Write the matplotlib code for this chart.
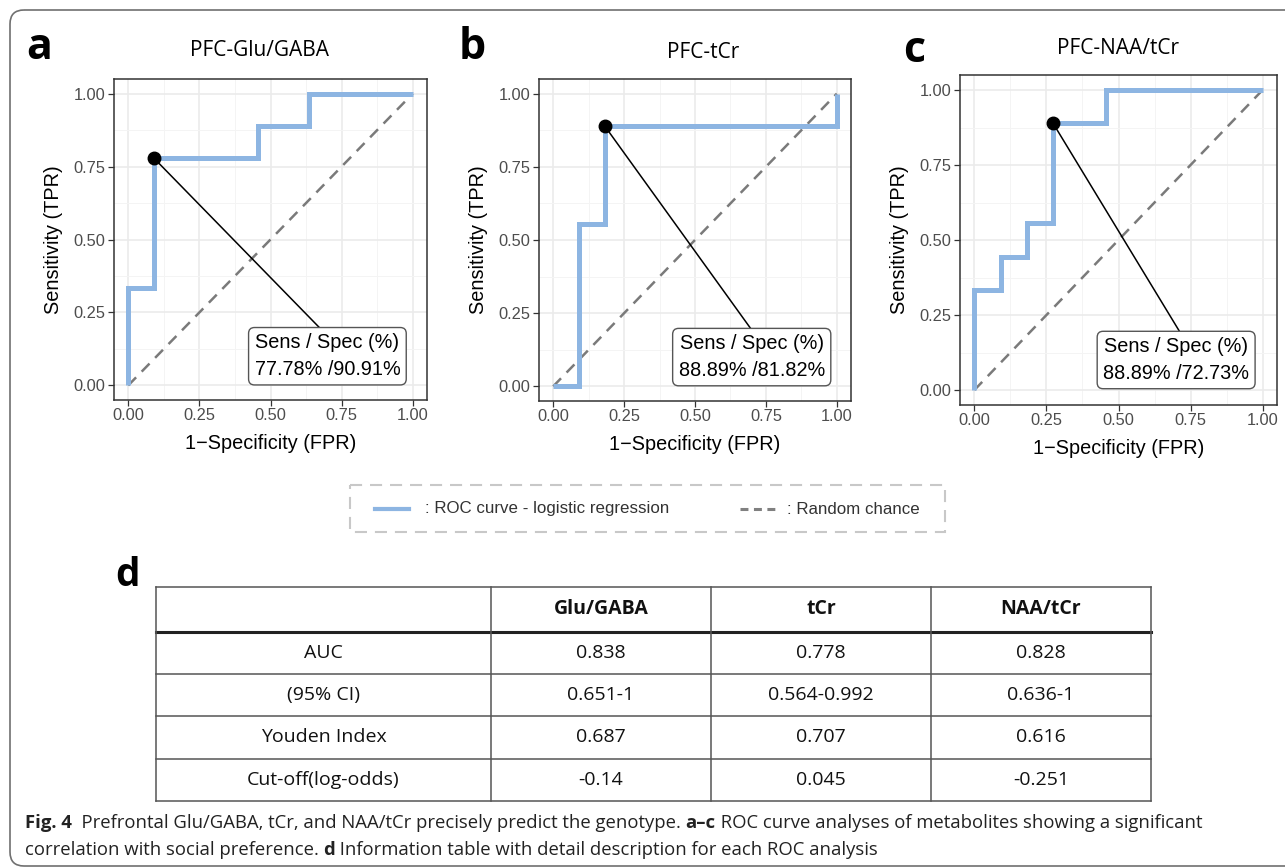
import matplotlib.pyplot as plt
from matplotlib.patches import FancyBboxPatch, Rectangle

# values
titles = ["PFC-Glu/GABA", "PFC-tCr", "PFC-NAA/tCr"]
letters = ["a", "b", "c"]

fpr_glu = [0.0, 0.0, 0.091, 0.091, 0.455, 0.455, 0.636, 0.636, 1.0]
tpr_glu = [0.0, 0.333, 0.333, 0.778, 0.778, 0.889, 0.889, 1.0, 1.0]
fpr_tcr = [0.0, 0.091, 0.091, 0.182, 0.182, 1.0, 1.0]
tpr_tcr = [0.0, 0.0, 0.556, 0.556, 0.889, 0.889, 1.0]
fpr_naa = [0.0, 0.0, 0.091, 0.091, 0.182, 0.182, 0.273, 0.273, 0.455, 0.455, 1.0]
tpr_naa = [0.0, 0.333, 0.333, 0.444, 0.444, 0.556, 0.556, 0.889, 0.889, 1.0, 1.0]

best_fpr = [0.091, 0.182, 0.273]
best_tpr = [0.778, 0.889, 0.889]
sens_spec = ["77.78% /90.91%", "88.89% /81.82%", "88.89% /72.73%"]

table_cols = ["", "Glu/GABA", "tCr", "NAA/tCr"]
row_names = ["AUC", "(95% CI)", "Youden Index", "Cut-off(log-odds)"]
glu_vals = ["0.838", "0.651-1", "0.687", "-0.14"]
tcr_vals = ["0.778", "0.564-0.992", "0.707", "0.045"]
naa_vals = ["0.828", "0.636-1", "0.616", "-0.251"]

caption1 = [("Fig. 4", True),
            ("  Prefrontal Glu/GABA, tCr, and NAA/tCr precisely predict the genotype. ", False),
            ("a\u2013c", True),
            (" ROC curve analyses of metabolites showing a significant", False)]
caption2 = [("correlation with social preference. ", False),
            ("d", True),
            (" Information table with detail description for each ROC analysis", False)]

blue = "#8DB5E2"
W, H = 1285, 868

fig = plt.figure(figsize=(W / 100, H / 100), dpi=100)
bg = fig.add_axes([0, 0, 1, 1])
bg.set_xlim(0, W)
bg.set_ylim(H, 0)
bg.axis("off")

# outer rounded frame
bg.add_patch(FancyBboxPatch((10, 10), 1400, 856, boxstyle="round,pad=0,rounding_size=14",
                            fill=False, ec="#707070", lw=1.2))


def px_axes(l, t, r, b):
    return fig.add_axes([l / W, 1 - b / H, (r - l) / W, (b - t) / H])


boxes = [(114, 79, 427, 400), (539, 79, 851, 401), (960, 75, 1277, 405)]
title_pos = [(259, 50), (703, 53), (1118, 49)]
letter_pos = [(26, 59), (459, 59), (903, 62)]
seg_end = [0.672, 0.696, 0.71]
curves = [(fpr_glu, tpr_glu), (fpr_tcr, tpr_tcr), (fpr_naa, tpr_naa)]

ticks = [0, 0.25, 0.5, 0.75, 1.0]
minor = [0.125, 0.375, 0.625, 0.875]

for i, (box, (fx, ty)) in enumerate(zip(boxes, curves)):
    ax = px_axes(*box)
    ax.set_xlim(-0.05, 1.05)
    ax.set_ylim(-0.05, 1.05)
    ax.set_xticks(ticks)
    ax.set_yticks(ticks)
    ax.set_xticks(minor, minor=True)
    ax.set_yticks(minor, minor=True)
    ax.set_xticklabels(["%.2f" % t for t in ticks])
    ax.set_yticklabels(["%.2f" % t for t in ticks])
    ax.grid(which="major", color="#EBEBEB", lw=1.2)
    ax.grid(which="minor", color="#F4F4F4", lw=0.7)
    ax.set_axisbelow(True)
    ax.tick_params(which="minor", length=0)
    ax.tick_params(which="major", length=4, width=0.9, color="#333333",
                   labelsize=11.8, labelcolor="#4D4D4D", pad=2)
    for lab in ax.get_xticklabels() + ax.get_yticklabels():
        lab.set_family("Liberation Sans")
    for s in ax.spines.values():
        s.set_color("#333333")
        s.set_linewidth(1.1)
    ax.set_xlabel("1\u2212Specificity (FPR)", fontsize=14.3, family="Liberation Sans", labelpad=8)
    ax.set_ylabel("Sensitivity (TPR)", fontsize=14.3, family="Liberation Sans", labelpad=8)

    ax.plot([0, 1], [0, 1], color="#7A7A7A", lw=1.8, dashes=(4.5, 3.2), zorder=2)
    ax.plot(fx, ty, color=blue, lw=3.6, solid_joinstyle="miter", solid_capstyle="butt", zorder=3)
    ax.plot([best_fpr[i], seg_end[i]], [best_tpr[i], 0.198], color="black", lw=1.1, zorder=4)
    ax.plot(best_fpr[i], best_tpr[i], "o", color="black", ms=9, zorder=5)
    ax.text(0.70, 0.10, "Sens / Spec (%)\n" + sens_spec[i], ha="center", va="center",
            fontsize=14.3, family="Liberation Sans", linespacing=1.5, zorder=6,
            bbox=dict(boxstyle="round,pad=0.3,rounding_size=0.3", fc="white", ec="#555555", lw=1))

    bg.text(*title_pos[i], titles[i], ha="center", va="center", fontsize=15, family="Open Sans")
    bg.text(*letter_pos[i], letters[i], ha="left", va="baseline", fontsize=31,
            family="Open Sans", fontweight="bold")

# legend box
bg.add_patch(Rectangle((350, 485), 595, 47, fill=False, ec="#C8C8C8", lw=1.5, ls=(0, (5.8, 3.8))))
bg.plot([375, 409], [509, 509], color=blue, lw=3)
bg.text(425, 509, ": ROC curve - logistic regression", va="center", fontsize=12.2,
        family="Liberation Sans", color="#333333")
bg.plot([740, 775], [509, 509], color="#808080", lw=2.2, dashes=(2.6, 1.8))
bg.text(787, 509, ": Random chance", va="center", fontsize=12.2,
        family="Liberation Sans", color="#333333")

# table d
bg.text(115, 586, "d", ha="left", va="baseline", fontsize=28, family="Open Sans", fontweight="bold")
col_x = [156, 491, 711, 931, 1151]
row_y = [587, 632, 674, 716, 759, 801]
for k, y in enumerate(row_y):
    if k == 1:
        bg.plot([col_x[0], col_x[-1]], [y, y], color="#222222", lw=2.2)
    else:
        bg.plot([col_x[0], col_x[-1]], [y, y], color="#555555", lw=1.1)
for x in col_x:
    bg.plot([x, x], [row_y[0], row_y[-1]], color="#555555", lw=1.1)

cols = [row_names, glu_vals, tcr_vals, naa_vals]
for c in range(4):
    cx = (col_x[c] + col_x[c + 1]) / 2
    bg.text(cx, (row_y[0] + row_y[1]) / 2, table_cols[c], ha="center", va="center",
            fontsize=14, family="Open Sans", fontweight="bold", color="#111111")
    for r, val in enumerate(cols[c]):
        bg.text(cx, (row_y[r + 1] + row_y[r + 2]) / 2, val, ha="center", va="center",
                fontsize=14, family="Open Sans", color="#111111")

# caption with mixed weights
renderer = fig.canvas.get_renderer()


def advance(s, bold, size):
    kw = dict(fontsize=size, family="Open Sans", fontweight="bold" if bold else "normal")
    t1 = bg.text(0, 0, "x" + s + "x", **kw)
    t2 = bg.text(0, 0, "xx", **kw)
    w = t1.get_window_extent(renderer).width - t2.get_window_extent(renderer).width
    t1.remove()
    t2.remove()
    return w


trial = sum(advance(s, b, 12) for s, b in caption1)
cap_size = 12 * (1194 - 25) / trial

for runs, y in [(caption1, 828), (caption2, 855)]:
    x = 25
    for s, b in runs:
        bg.text(x, y, s, fontsize=cap_size, family="Open Sans",
                fontweight="bold" if b else "normal", va="baseline", color="#222222")
        x += advance(s, b, cap_size)

fig.savefig("out.png", dpi=100)
